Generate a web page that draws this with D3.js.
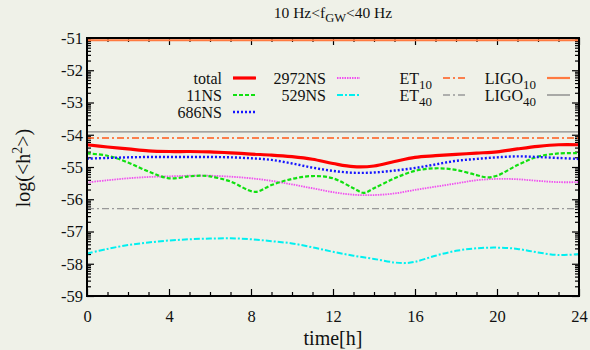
<!DOCTYPE html>
<html>
<head>
<meta charset="utf-8">
<script src="https://cdn.jsdelivr.net/npm/d3@7"></script>
<style>
  body { margin: 0; background: #eff1e8; }
  svg { display: block; font-family: "Liberation Serif", "Times New Roman", serif; }
  .tick text { font-family: "Liberation Serif", serif; font-size: 16.5px; fill: #111; }
</style>
</head>
<body>
<svg id="chart" width="590" height="350"></svg>
<script>
// hours / log(<h^2>)
var total = [[0,-54.31],[1,-54.38],[2,-54.44],[3,-54.50],[4,-54.52],[5,-54.52],[6,-54.53],[7,-54.56],[8,-54.60],[9,-54.63],[10,-54.68],[11,-54.76],[12,-54.89],[13,-54.99],[14,-54.97],[15,-54.83],[16,-54.70],[17,-54.65],[18,-54.61],[19,-54.57],[20,-54.53],[21,-54.44],[22,-54.36],[23,-54.31],[24,-54.31]];
var ns11 = [[0,-54.58],[1,-54.65],[2,-54.86],[3,-55.14],[4,-55.35],[5,-55.29],[5.5,-55.27],[6,-55.29],[7,-55.45],[8.2,-55.77],[9,-55.56],[10,-55.37],[11,-55.28],[12,-55.35],[13,-55.66],[13.5,-55.80],[14,-55.66],[15,-55.35],[16,-55.12],[17,-55.04],[18,-55.09],[19,-55.25],[19.5,-55.32],[20,-55.27],[21,-54.94],[22,-54.68],[23,-54.58],[24,-54.57]];
var ns686 = [[0,-54.74],[1,-54.72],[2,-54.70],[3,-54.69],[4,-54.69],[5,-54.69],[6,-54.69],[7,-54.70],[8,-54.73],[9,-54.78],[10,-54.89],[11,-55.02],[12,-55.12],[13,-55.18],[14,-55.17],[15,-55.11],[16,-55.03],[17,-54.92],[18,-54.81],[19,-54.75],[20,-54.70],[21,-54.67],[22,-54.69],[23,-54.72],[24,-54.75]];
var ns2972 = [[0,-55.48],[1,-55.41],[2,-55.35],[3,-55.31],[4,-55.29],[5,-55.27],[6,-55.27],[7,-55.30],[8,-55.35],[9,-55.43],[10,-55.54],[11,-55.66],[12,-55.78],[13,-55.86],[14,-55.87],[15,-55.82],[16,-55.71],[17,-55.61],[18,-55.51],[19,-55.41],[20,-55.37],[21,-55.38],[22,-55.43],[23,-55.47],[24,-55.47]];
var ns529 = [[0,-57.68],[1,-57.54],[2,-57.42],[3,-57.34],[4,-57.28],[5,-57.24],[6,-57.22],[7,-57.21],[8,-57.24],[9,-57.30],[10,-57.37],[11,-57.49],[12,-57.63],[13,-57.75],[14,-57.85],[15,-57.96],[15.5,-57.98],[16,-57.94],[17,-57.75],[18,-57.60],[19,-57.52],[20,-57.50],[21,-57.54],[22,-57.65],[23,-57.73],[24,-57.70]];

// detector sensitivity levels (constant)
var et10 = -54.10, et40 = -56.29, ligo10 = -51.07, ligo40 = -53.91;

var xTicks = [0, 4, 8, 12, 16, 20, 24];
var yTicks = [-59, -58, -57, -56, -55, -54, -53, -52, -51];

var svg = d3.select('#chart'),
    pLeft = 87, pRight = 579, pTop = 38, pBottom = 296,
    x = d3.scaleLinear().domain([0, 24]).range([pLeft, pRight]),
    y = d3.scaleLinear().domain([-59, -51]).range([pBottom, pTop]);

// minor ticks: every hour on x, log-style (k*10^n) on y
var xMinor = d3.range(0, 25).filter(function(t) { return t % 4; });
var yMinor = [];
d3.range(-59, -51).forEach(function(n) {
  d3.range(2, 10).forEach(function(k) { yMinor.push(n + Math.log10(k)); });
});

var plain = function(d) { return String(d); };   // hyphen, not unicode minus

function addAxis(axis, tr, labels) {
  var g = svg.append('g').attr('transform', tr).call(axis);
  g.select('.domain').remove();
  g.selectAll('.tick line').attr('stroke', '#000').attr('stroke-width', 1.2);
  if (!labels) g.selectAll('.tick text').remove();
  return g;
}

addAxis(d3.axisBottom(x).tickValues(xTicks).tickFormat(plain).tickSizeInner(-7).tickSizeOuter(0).tickPadding(14), 'translate(0,' + pBottom + ')', true);
addAxis(d3.axisBottom(x).tickValues(xMinor).tickSizeInner(-4).tickSizeOuter(0), 'translate(0,' + pBottom + ')', false);
addAxis(d3.axisTop(x).tickValues(xTicks).tickSizeInner(-7).tickSizeOuter(0), 'translate(0,' + pTop + ')', false);
addAxis(d3.axisTop(x).tickValues(xMinor).tickSizeInner(-4).tickSizeOuter(0), 'translate(0,' + pTop + ')', false);
addAxis(d3.axisLeft(y).tickValues(yTicks).tickFormat(plain).tickSizeInner(-7).tickSizeOuter(0).tickPadding(4), 'translate(' + pLeft + ',0)', true);
addAxis(d3.axisLeft(y).tickValues(yMinor).tickSizeInner(-4).tickSizeOuter(0), 'translate(' + pLeft + ',0)', false);
addAxis(d3.axisRight(y).tickValues(yTicks).tickSizeInner(-7).tickSizeOuter(0), 'translate(' + pRight + ',0)', false);
addAxis(d3.axisRight(y).tickValues(yMinor).tickSizeInner(-4).tickSizeOuter(0), 'translate(' + pRight + ',0)', false);

var plot = svg.append('g');

function hline(v, color, width, dash) {
  plot.append('line')
    .attr('x1', x(0)).attr('x2', x(24))
    .attr('y1', y(v)).attr('y2', y(v))
    .attr('stroke', color).attr('stroke-width', width)
    .attr('stroke-dasharray', dash || null);
}

var dashDot = '7,3,2,3';
hline(ligo10, '#ff7a40', 2.2);
hline(ligo40, '#8a8a8a', 1.4);
hline(et10, '#ff5a1a', 1.3, dashDot);
hline(et40, '#999999', 1.3, dashDot);

var line = d3.line()
    .x(function(d) { return x(d[0]); })
    .y(function(d) { return y(d[1]); })
    .curve(d3.curveCatmullRom.alpha(0.5));

var series = [
  { data: ns529,  color: '#00f0f0', width: 2,   dash: '6,2,2,2' },
  { data: ns2972, color: '#f050f0', width: 1.8, dash: '1.5,1' },
  { data: ns11,   color: '#10e010', width: 2.2, dash: '4,2' },
  { data: ns686,  color: '#1515ff', width: 2.4, dash: '2,2' },
  { data: total,  color: '#ff0000', width: 3.2, dash: null }
];

series.forEach(function(s) {
  plot.append('path')
    .attr('d', line(s.data))
    .attr('fill', 'none')
    .attr('stroke', s.color)
    .attr('stroke-width', s.width)
    .attr('stroke-dasharray', s.dash);
});

// frame
svg.append('rect')
  .attr('x', pLeft).attr('y', pTop)
  .attr('width', pRight - pLeft).attr('height', pBottom - pTop)
  .attr('fill', 'none').attr('stroke', '#000').attr('stroke-width', 2);

// legend
var legend = [
  { label: 'total',  sub: null, tx: 222, ty: 78,  color: '#ff0000', width: 3.2, dash: null },
  { label: '11NS',   sub: null, tx: 222, ty: 95,  color: '#10e010', width: 2.2, dash: '4,2' },
  { label: '686NS',  sub: null, tx: 222, ty: 112, color: '#1515ff', width: 2.4, dash: '2,2' },
  { label: '2972NS', sub: null, tx: 326, ty: 78,  color: '#f050f0', width: 1.8, dash: '1.5,1' },
  { label: '529NS',  sub: null, tx: 326, ty: 95,  color: '#00f0f0', width: 2,   dash: '6,2,2,2' },
  { label: 'ET',     sub: '10', tx: 432, ty: 78,  color: '#ff5a1a', width: 1.3, dash: dashDot },
  { label: 'ET',     sub: '40', tx: 432, ty: 95,  color: '#999999', width: 1.3, dash: dashDot },
  { label: 'LIGO',   sub: '10', tx: 536, ty: 78,  color: '#ff7a40', width: 2.2, dash: null },
  { label: 'LIGO',   sub: '40', tx: 536, ty: 95,  color: '#8a8a8a', width: 1.4, dash: null }
];

var lg = svg.append('g').selectAll('g').data(legend).enter().append('g');
lg.each(function(d) {
  var g = d3.select(this);
  var t = g.append('text')
    .attr('x', d.tx).attr('y', d.ty + 5.5)
    .attr('text-anchor', 'end')
    .attr('font-size', 16).attr('fill', '#111');
  t.append('tspan').text(d.label);
  if (d.sub) t.append('tspan').attr('font-size', 13).attr('dy', 5).text(d.sub);
  g.append('line')
    .attr('x1', d.tx + 11).attr('x2', d.tx + 34)
    .attr('y1', d.ty).attr('y2', d.ty)
    .attr('stroke', d.color).attr('stroke-width', d.width)
    .attr('stroke-dasharray', d.dash);
});

// title
var title = svg.append('text')
  .attr('x', 333).attr('y', 18)
  .attr('text-anchor', 'middle')
  .attr('font-size', 15.5).attr('fill', '#111');
title.append('tspan').text('10 Hz<f');
title.append('tspan').attr('font-size', 12.5).attr('dy', 4).text('GW');
title.append('tspan').attr('dy', -4).text('<40 Hz');

// axis titles
svg.append('text')
  .attr('x', 333).attr('y', 345)
  .attr('text-anchor', 'middle')
  .attr('font-size', 20).attr('fill', '#111')
  .text('time[h]');

var yl = svg.append('text')
  .attr('transform', 'translate(30,168) rotate(-90)')
  .attr('text-anchor', 'middle')
  .attr('font-size', 20).attr('fill', '#111');
yl.append('tspan').text('log(<h');
yl.append('tspan').attr('font-size', 14).attr('dy', -8).text('2');
yl.append('tspan').attr('dy', 8).text('>)');
</script>
</body>
</html>
